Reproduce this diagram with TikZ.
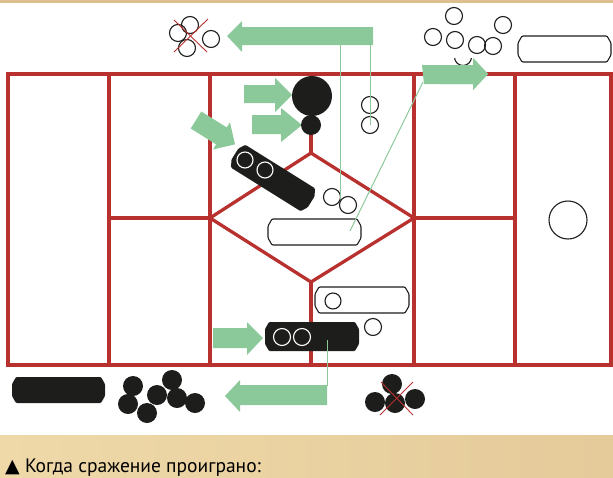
\documentclass[tikz,border=0pt]{standalone}
\usepackage{fontspec}
\setmainfont{PT Sans}
\newfontfamily\symfont{DejaVu Sans}
\definecolor{gridred}{HTML}{B8312F}
\definecolor{agreen}{HTML}{8CC99A}
\definecolor{tanL}{HTML}{EFD9A8}
\definecolor{tanR}{HTML}{E5CA9A}
\definecolor{tanTop}{HTML}{DCBF8E}
\definecolor{ink}{HTML}{1D1D1B}
% #1 scope options, #2 path style, #3 name, #4 cx, #5 cy, #6 width, #7 height
\newcommand{\capsule}[7][]{%
  \begin{scope}[shift={(#4,#5)},#1]
    \path[#2, rounded corners=1pt]
      ({-#6/2+4},{-#7/2}) -- ({#6/2-4},{-#7/2}) -- ({#6/2},{-#7/2+7}) --
      ({#6/2},{#7/2-7}) -- ({#6/2-4},{#7/2}) -- ({-#6/2+4},{#7/2}) --
      ({-#6/2},{#7/2-7}) -- ({-#6/2},{-#7/2+7}) -- cycle;
    \coordinate (#3) at (0,0);
  \end{scope}}
\begin{document}
\begin{tikzpicture}[x=1pt,y=-1pt,
  redline/.style={draw=gridred, line width=3.3pt},
  garrow/.style={fill=agreen, draw=none},
  glink/.style={draw=agreen, line width=1pt},
  ocirc/.style={circle, draw=ink, line width=1.1pt, minimum size=17pt, inner sep=0pt},
  bcirc/.style={circle, fill=ink, minimum size=20pt, inner sep=0pt},
  wcirc/.style={circle, draw=white, line width=1.1pt, minimum size=16pt, inner sep=0pt},
  ocap/.style={draw=ink, line width=1.1pt, fill=white},
  bcap/.style={fill=ink},
  xmark/.style={draw=gridred, line width=0.9pt}
]
\useasboundingbox (0,0) rectangle (613,477);
% background bands
\fill[tanTop] (0,0) rectangle (613,3);
\shade[left color=tanL, right color=tanR] (0,435) rectangle (613,477);

% red board
\draw[redline] (8,74) rectangle (611,365);
\foreach \xx in {109,210,414,515} \draw[redline] (\xx,74) -- (\xx,365);
\draw[redline] (109,218) -- (210,218);
\draw[redline] (414,218) -- (515,218);
\draw[redline] (311,153) -- (414,218) -- (311,282) -- (210,218) -- cycle;
\draw[redline] (311,74) -- (311,153);
\draw[redline] (311,282) -- (311,365);

% green arrows
\fill[garrow] (373,27) -- (242,27) -- (242,21) -- (227,36) -- (242,52) -- (242,45) -- (373,45) -- cycle;
\coordinate (topshaftA) at (340,44);
\coordinate (topshaftB) at (370,44);
\fill[garrow] (422,65) -- (473,65) -- (473,58) -- (488,74) -- (473,90) -- (473,84) -- (424,84) -- cycle;
\coordinate (rshaft) at (423,82);
\fill[garrow] (244,85) -- (275,85) -- (275,78) -- (292,95) -- (275,112) -- (275,103) -- (244,103) -- cycle;
\fill[garrow] (252,115) -- (281,115) -- (281,108) -- (302,125) -- (281,142) -- (281,134) -- (252,134) -- cycle;
\begin{scope}[shift={(196,120)}, rotate=-32]
  \fill[garrow] (0,-10) -- (30,-10) -- (30,-16) -- (46,0) -- (30,16) -- (30,10) -- (0,10) -- cycle;
\end{scope}
\fill[garrow] (213,328) -- (247,328) -- (247,322) -- (263,338) -- (247,355) -- (247,348) -- (213,348) -- cycle;
\fill[garrow] (327,385) -- (240,385) -- (240,380) -- (225,396) -- (240,412) -- (240,405) -- (327,405) -- cycle;
\coordinate (botshaft) at (327,386);

% top-left defeated group
\node[ocirc] (tl1) at (190,25) {};
\node[ocirc] (tl2) at (178,33) {};
\node[ocirc] (tl3) at (187,48) {};
\node[ocirc] (tl4) at (211,39) {};
\draw[xmark] (174,20) -- (207,52);
\draw[xmark] (208,19) -- (174,52);

% top-right group
\node[ocirc] (tr1) at (454,16) {};
\node[ocirc] (tr2) at (433,37) {};
\node[ocirc] (tr3) at (455,40) {};
\node[ocirc] (tr5) at (477,45) {};
\node[ocirc] (tr6) at (493,46) {};
\node[ocirc] (tr7) at (503,25) {};
\capsule{ocap}{trcap}{564.5}{49}{93}{26}
\begin{scope}
  \clip (440,58) rectangle (500,95);
  \node[ocirc] (tr4) at (463,57) {};
\end{scope}
\fill[garrow] (440,65) -- (473,65) -- (473,58) -- (488,74) -- (473,90) -- (473,84) -- (440,84) -- cycle;

% black pieces near the top
\node[bcirc, minimum size=40pt] (big) at (312,96) {};
\node[bcirc] (small) at (311,125) {};
\capsule[rotate=-32]{bcap}{diag}{273}{178}{90}{27}
\node[wcirc] (dw1) at (245,160) {};
\node[wcirc] (dw2) at (265,170) {};

% middle outlined pieces
\node[ocirc] (m1) at (370,105) {};
\node[ocirc] (m2) at (370,125) {};
\node[ocirc] (d1) at (332,197) {};
\node[ocirc] (d2) at (348,205) {};
\capsule{ocap}{dcap}{314.5}{232}{93}{26}
\coordinate (dcapend) at (350,231);
\coordinate (dpair) at (340,199);

% lower pieces
\capsule{ocap}{lrcap}{362}{300}{94}{26}
\node[ocirc, minimum size=16pt] (lri) at (333,301) {};
\node[ocirc] (lrs) at (373,327) {};
\capsule{bcap}{bcapm}{312}{336.5}{94}{29}
\node[wcirc, minimum size=17pt] (bw1) at (282,337) {};
\node[wcirc, minimum size=17pt] (bw2) at (302,337) {};
\coordinate (bcapstart) at (327,340);
\node[ocirc, minimum size=38pt] (rc) at (568,220) {};

% thin green links
\draw[glink] (topshaftA) -- (dpair);
\draw[glink] (topshaftB) -- (m2.center);
\draw[glink] (rshaft) -- (dcapend);
\draw[glink] (bcapstart) -- (botshaft);

% bottom pieces
\capsule{bcap}{blcap}{58.5}{390}{93}{26}
\foreach \n/\px/\py in {b1/133/386, b2/128/404, b3/147/413, b4/157/395, b5/172/380, b6/177/398, b7/195/403}
  \node[bcirc] (\n) at (\px,\py) {};
\foreach \n/\px/\py in {c1/392/384, c2/375/402, c3/395/403, c4/415/399}
  \node[bcirc] (\n) at (\px,\py) {};
\draw[xmark] (381,382) -- (413,415);
\draw[xmark] (413,382) -- (380,415);

% caption
\node[anchor=base west, inner sep=0pt, font=\fontsize{19.5}{22}\selectfont, text=black] (cap) at (5,472)
  {{\symfont\fontsize{19}{22}\selectfont ▲} Когда сражение проиграно:};
\end{tikzpicture}
\end{document}
